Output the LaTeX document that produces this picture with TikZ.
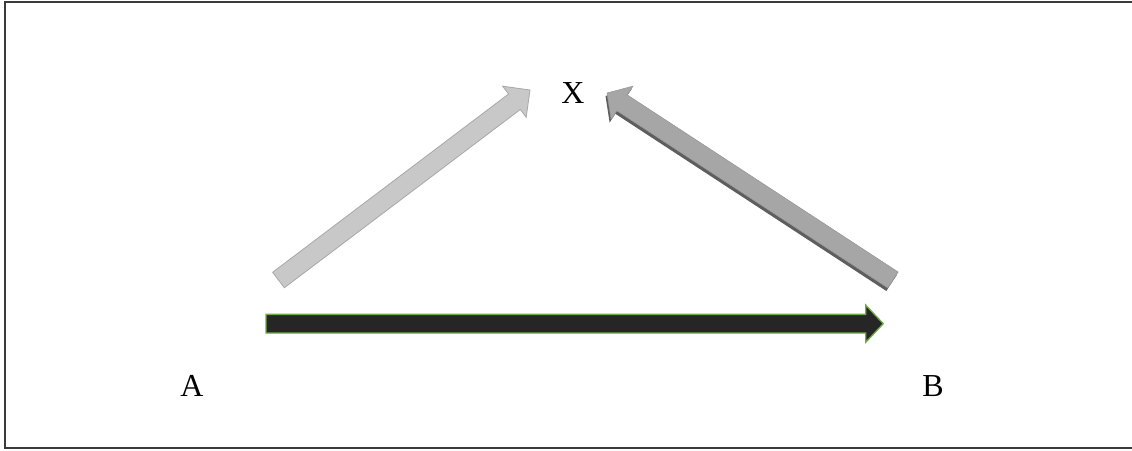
\documentclass[tikz,border=0pt]{standalone}
\usepackage{fontspec}
\setmainfont{Liberation Serif}
\usetikzlibrary{calc}
\definecolor{lightarrow}{HTML}{C8C8C8}
\definecolor{lightedge}{HTML}{A8A8A8}
\definecolor{midarrow}{HTML}{A6A6A6}
\definecolor{midshadow}{HTML}{5E5E5E}
\definecolor{darkarrow}{HTML}{262626}
\definecolor{greenedge}{HTML}{70AD47}
\definecolor{framecol}{HTML}{3A3A3A}
\tikzset{
  label text/.style={font=\fontsize{32}{36}\selectfont, inner sep=0pt, anchor=center},
  light block/.style={fill=lightarrow, draw=lightedge, line width=0.8pt, line join=miter},
  mid block/.style={fill=midarrow, draw=midarrow!90!black, line width=0.5pt, line join=miter},
  mid shadow/.style={fill=midshadow, draw=none},
  dark block/.style={fill=darkarrow, draw=greenedge, line width=1.3pt, line join=miter},
  frame line/.style={draw=framecol, line width=1.3pt}
}
% #1 tail, #2 tip, #3 half shaft width, #4 half head width, #5 head length, #6 style
\newcommand{\blockarrowdraw}[6]{%
  \path[#6]
    ($(#1)!#3!90:(#2)$) --
    ($($(#2)!#5!(#1)$)!#3!-90:(#1)$) --
    ($($(#2)!#5!(#1)$)!#4!-90:(#1)$) --
    (#2) --
    ($($(#2)!#5!(#1)$)!#4!90:(#1)$) --
    ($($(#2)!#5!(#1)$)!#3!90:(#1)$) --
    ($(#1)!#3!-90:(#2)$) -- cycle;%
}
\begin{document}
\begin{tikzpicture}[x=1pt,y=-1pt]
  \useasboundingbox (0,0) rectangle (1132,450);
  \fill[white] (0,0) rectangle (1132,450);
  % frame (open to the right)
  \draw[frame line] (1133,2) -- (5,2) -- (5,448) -- (1133,448);

  % labels
  \node[label text] (X) at (573,93) {X};
  \node[label text] (A) at (192,386) {A};
  \node[label text] (B) at (933,386) {B};

  % arrow end points
  \coordinate (laT) at (278.5,280);
  \coordinate (laH) at (530,90);
  \coordinate (maT) at (893,280);
  \coordinate (maH) at (607,93);
  \coordinate (maTs) at (891.5,283);
  \coordinate (maHs) at (605.5,96);
  \coordinate (daT) at (266,323.7);
  \coordinate (daH) at (883.3,323.7);

  % light arrow A -> X
  \blockarrowdraw{laT}{laH}{9.7pt}{19.5pt}{19.5pt}{light block}
  % mid-grey arrow B -> X with shadow
  \blockarrowdraw{maTs}{maHs}{9.5pt}{20pt}{18pt}{mid shadow}
  \blockarrowdraw{maT}{maH}{9.5pt}{20pt}{18pt}{mid block}
  % dark arrow A -> B
  \blockarrowdraw{daT}{daH}{9.35pt}{18.6pt}{17.6pt}{dark block}
\end{tikzpicture}
\end{document}
